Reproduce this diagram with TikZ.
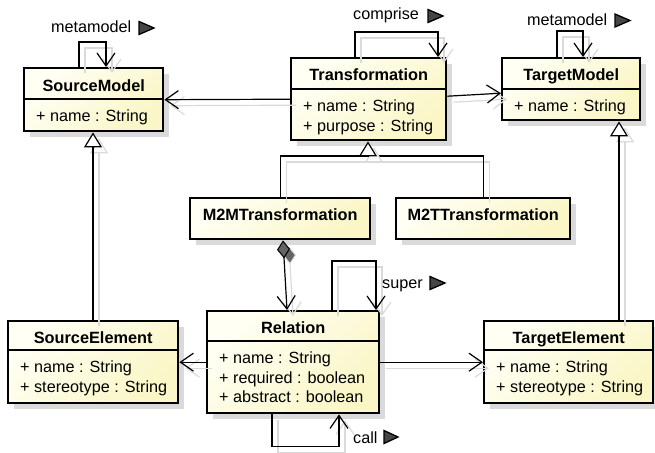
\documentclass[tikz,border=0pt]{standalone}
\usepackage{fontspec}
\setmainfont{Liberation Sans}
\usetikzlibrary{arrows.meta,calc}
\definecolor{clsA}{RGB}{255,255,244}
\definecolor{clsB}{RGB}{250,246,198}
\definecolor{shd}{RGB}{218,218,218}
\definecolor{trifill}{RGB}{70,70,70}
\definecolor{diafill}{RGB}{100,100,100}
\begin{document}
\begin{tikzpicture}[x=1pt,y=-1pt,
  classbox/.style={draw=black, line width=2.4pt, shading=axis, left color=clsA, right color=clsB, shading angle=45,
     preaction={fill=shd, transform canvas={xshift=6pt,yshift=-6pt}}, anchor=north west, inner sep=0pt},
  ttl/.style={font=\fontsize{16.3}{19}\selectfont\bfseries, inner sep=0pt, anchor=base},
  attr/.style={font=\fontsize{16.2}{19}\selectfont, inner sep=0pt, anchor=base west},
  lbl/.style={font=\fontsize{16.2}{19}\selectfont, inner sep=0pt, anchor=base west},
  divline/.style={line width=1.2pt},
  conn/.style={line width=1.2pt, preaction={draw=shd, line width=1.2pt, transform canvas={xshift=6pt,yshift=-6pt}}},
  assoc/.style={conn, -{Straight Barb[length=13pt,width=18pt,line width=1.2pt]}},
  gen/.style={conn, -{Triangle[open,length=15pt,width=18pt,fill=white,line width=1.2pt]}},
  comp/.style={conn, {Diamond[length=18pt,width=13pt,fill=diafill,line width=1pt]}-{Straight Barb[length=13pt,width=18pt,line width=1.2pt]}},
  tristyle/.style={fill=trifill, draw=black, line width=1.3pt, line join=miter}
]
\useasboundingbox (0,0) rectangle (655,452);

% ---------- classes ----------
% SourceModel
\node[classbox, minimum width=139pt, minimum height=63pt] (sm) at (23,67) {};
\node[ttl] (smT) at ($(sm.north)+(0,24)$) {SourceModel};
\draw[divline] ($(sm.north west)+(0,32)$) -- ($(sm.north east)+(0,32)$);
\node[attr] (smA1) at ($(sm.north west)+(13,54.5)$) {+ name : String};

% Transformation
\node[classbox, minimum width=155pt, minimum height=82pt] (tr) at (290,57) {};
\node[ttl] (trT) at ($(tr.north)+(0,24)$) {Transformation};
\draw[divline] ($(tr.north west)+(0,32)$) -- ($(tr.north east)+(0,32)$);
\node[attr] (trA1) at ($(tr.north west)+(13,54.5)$) {+ name : String};
\node[attr] (trA2) at ($(tr.north west)+(13,74)$) {+ purpose : String};

% TargetModel
\node[classbox, minimum width=138pt, minimum height=62pt] (tm) at (501,57) {};
\node[ttl] (tmT) at ($(tm.north)+(0,24)$) {TargetModel};
\draw[divline] ($(tm.north west)+(0,32)$) -- ($(tm.north east)+(0,32)$);
\node[attr] (tmA1) at ($(tm.north west)+(13,54.5)$) {+ name : String};

% M2MTransformation
\node[classbox, minimum width=180pt, minimum height=41pt] (m2m) at (189,197) {};
\node[ttl] (m2mT) at ($(m2m.north)+(0,23)$) {M2MTransformation};

% M2TTransformation
\node[classbox, minimum width=174pt, minimum height=41pt] (m2t) at (395,197) {};
\node[ttl] (m2tT) at ($(m2t.north)+(0,23)$) {M2TTransformation};

% SourceElement
\node[classbox, minimum width=170pt, minimum height=82pt] (se) at (7,320) {};
\node[ttl] (seT) at ($(se.north)+(0,23)$) {SourceElement};
\draw[divline] ($(se.north west)+(0,30)$) -- ($(se.north east)+(0,30)$);
\node[attr] (seA1) at ($(se.north west)+(13,52.5)$) {+ name : String};
\node[attr] (seA2) at ($(se.north west)+(13,72)$) {+ stereotype : String};

% Relation
\node[classbox, minimum width=172pt, minimum height=102pt] (rel) at (206,310) {};
\node[ttl] (relT) at ($(rel.north)+(0,23)$) {Relation};
\draw[divline] ($(rel.north west)+(0,31)$) -- ($(rel.north east)+(0,31)$);
\node[attr] (relA1) at ($(rel.north west)+(13,53.5)$) {+ name : String};
\node[attr] (relA2) at ($(rel.north west)+(13,73)$) {+ required : boolean};
\node[attr] (relA3) at ($(rel.north west)+(13,92.5)$) {+ abstract : boolean};

% TargetElement
\node[classbox, minimum width=169pt, minimum height=82pt] (te) at (483,320) {};
\node[ttl] (teT) at ($(te.north)+(0,23)$) {TargetElement};
\draw[divline] ($(te.north west)+(0,30)$) -- ($(te.north east)+(0,30)$);
\node[attr] (teA1) at ($(te.north west)+(13,52.5)$) {+ name : String};
\node[attr] (teA2) at ($(te.north west)+(13,72)$) {+ stereotype : String};

% ---------- connectors ----------
% associations
\draw[assoc] (tr.west) -- (sm.east);
\draw[assoc] ([yshift=3pt]tr.east) -- ([yshift=-4pt]tm.west);
\draw[assoc] (rel.west) -- (se.east);
\draw[assoc] (rel.east) -- (te.west);

% self loops
\draw[assoc] ([xshift=56pt]sm.north west) -- ++(0,-25) -| ([xshift=83pt]sm.north west);
\draw[assoc] ([xshift=65pt]tr.north west) -- ++(0,-25) -| ([xshift=148pt]tr.north west);
\draw[assoc] ([xshift=56pt]tm.north west) -- ++(0,-26) -| ([xshift=82pt]tm.north west);
\draw[assoc] ([xshift=126pt]rel.north west) -- ++(0,-49) -| ([xshift=170pt]rel.north west);
\draw[assoc] ([xshift=66pt]rel.south west) -- ++(0,32) -| ([xshift=133pt]rel.south west);

% generalizations
\coordinate (genjoin) at (368,156);
\draw[conn] (m2m.north) |- (genjoin) -| (m2t.north);
\draw[gen] (genjoin) -- ([xshift=78pt]tr.south west);
\draw[gen] ([xshift=86pt]se.north west) -- ([xshift=70pt]sm.south west);
\draw[gen] ([xshift=136pt]te.north west) -- ([xshift=118pt]tm.south west);

% composition
\draw[comp] ([xshift=94pt]m2m.south west) -- ([xshift=81pt]rel.north west);

% ---------- labels ----------
\node[lbl] (lmmS) at (51,33) {metamodel};
\filldraw[tristyle] (139,21.5) -- (154,28) -- (139,34.5) -- cycle;
\node[lbl] (lcomp) at (353,20) {comprise};
\filldraw[tristyle] (428,9.5) -- (443,16) -- (428,22.5) -- cycle;
\node[lbl] (lmmT) at (527,26) {metamodel};
\filldraw[tristyle] (615,14) -- (630,20.5) -- (615,27) -- cycle;
\node[lbl] (lsuper) at (382,288) {super};
\filldraw[tristyle] (430,276.5) -- (445,283) -- (430,289.5) -- cycle;
\node[lbl] (lcall) at (353,443) {call};
\filldraw[tristyle] (384,430.5) -- (398,437) -- (384,443.5) -- cycle;
\end{tikzpicture}
\end{document}
